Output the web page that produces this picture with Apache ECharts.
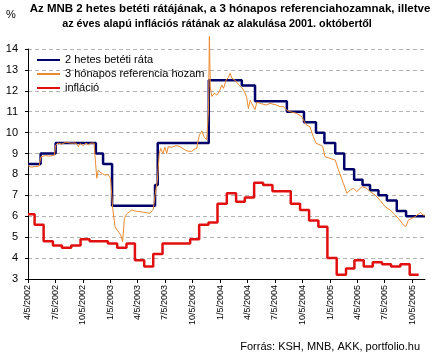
<!DOCTYPE html>
<html><head><meta charset="utf-8">
<script src="https://cdn.jsdelivr.net/npm/echarts@6/dist/echarts.min.js"></script>
<style>html,body{margin:0;padding:0;background:#fff}#c{width:432px;height:357px}</style>
</head><body><div id="c"></div><script>
const titleLine1 = 'Az MNB 2 hetes betéti rátájának, a 3 hónapos referenciahozamnak, illetve';
const titleLine2 = 'az éves alapú inflációs rátának az alakulása 2001. októbertől';
const sourceText = 'Forrás: KSH, MNB, AKK, portfolio.hu';
const seriesNames = ['2 hetes betéti ráta', '3 hónapos referencia hozam', 'infláció'];

const tickLabels = ['4/5/2002','7/5/2002','10/5/2002','1/5/2003','4/5/2003','7/5/2003','10/5/2003','1/5/2004','4/5/2004','7/5/2004','10/5/2004','1/5/2005','4/5/2005','7/5/2005','10/5/2005'];
const yTicks = [3,4,5,6,7,8,9,10,11,12,13,14];
const xStart = '2002-04-05';
const xEnd = '2005-11-17';

const blueDates = ['2002-04-05','2002-05-17','2002-07-06','2002-11-17','2002-12-11','2003-01-10','2003-06-02','2003-06-11','2003-11-28','2004-03-17','2004-04-30','2004-08-14','2004-10-10','2004-11-19','2004-12-17','2005-01-22','2005-02-21','2005-03-26','2005-04-23','2005-05-18','2005-06-15','2005-07-13','2005-08-15','2005-09-15','2005-11-17'];
const blueValues = [8.5,9.0,9.5,9.0,8.5,6.5,7.5,9.5,12.5,12.25,11.5,11.0,10.5,10.0,9.5,9.0,8.25,7.75,7.5,7.25,7.0,6.75,6.25,6.0,6.0];

const redDates = ['2002-04-05','2002-04-27','2002-05-27','2002-06-27','2002-07-27','2002-08-27','2002-09-27','2002-10-27','2002-11-27','2002-12-27',
 '2003-01-27','2003-02-27','2003-03-27','2003-04-27','2003-05-27','2003-06-27','2003-07-27','2003-08-27','2003-09-27','2003-10-27','2003-11-27','2003-12-27',
 '2004-01-27','2004-02-27','2004-03-27','2004-04-27','2004-05-27','2004-06-27','2004-07-27','2004-08-27','2004-09-27','2004-10-27','2004-11-27','2004-12-27',
 '2005-01-27','2005-02-27','2005-03-27','2005-04-27','2005-05-27','2005-06-27','2005-07-27','2005-08-27','2005-09-27','2005-10-27'];
const redValues = [6.1,5.6,4.8,4.6,4.5,4.6,4.9,4.8,4.8,4.7,
 4.5,4.7,3.9,3.6,4.2,4.7,4.7,4.7,4.9,5.6,5.7,6.6,
 7.1,6.7,6.9,7.6,7.5,7.2,7.2,6.6,6.3,5.8,5.5,4.0,
 3.2,3.5,3.9,3.6,3.8,3.7,3.6,3.7,3.2,3.2];

const orangeDates = ['2002-04-05','2002-04-15','2002-04-28','2002-05-12','2002-05-18','2002-06-01','2002-06-17','2002-07-02','2002-07-06','2002-07-14','2002-07-27','2002-08-10','2002-08-23','2002-09-12','2002-09-20','2002-09-25','2002-10-06','2002-10-15','2002-10-23','2002-11-01','2002-11-11','2002-11-14','2002-11-20','2002-11-25','2002-12-07','2002-12-17','2002-12-27',
 '2003-01-05','2003-01-12','2003-01-20','2003-01-27','2003-02-08','2003-02-14','2003-02-20','2003-02-27','2003-03-05','2003-03-16','2003-03-27','2003-04-13','2003-04-30','2003-05-16','2003-05-27','2003-06-02','2003-06-10','2003-06-16','2003-06-21','2003-06-28','2003-07-05','2003-07-11','2003-07-16','2003-07-28','2003-08-11','2003-08-24','2003-09-07','2003-09-17','2003-10-02','2003-10-10','2003-10-19','2003-10-23','2003-10-28','2003-11-05','2003-11-12','2003-11-21','2003-11-27','2003-11-30','2003-12-03','2003-12-08','2003-12-16','2003-12-25',
 '2004-01-02','2004-01-10','2004-01-16','2004-01-25','2004-02-01','2004-02-07','2004-02-13','2004-02-24','2004-03-06','2004-03-17','2004-03-25','2004-04-02','2004-04-08','2004-04-14','2004-04-19','2004-04-30','2004-05-06','2004-05-22','2004-06-06','2004-06-19','2004-07-11','2004-07-22','2004-08-02','2004-08-14','2004-08-25','2004-09-16','2004-10-03','2004-10-12','2004-10-19','2004-10-30','2004-11-10','2004-11-19','2004-12-03','2004-12-11','2004-12-19',
 '2005-01-05','2005-01-22','2005-02-02','2005-02-18','2005-03-02','2005-03-13','2005-03-24','2005-04-04','2005-04-21','2005-05-07','2005-05-18','2005-06-04','2005-06-21','2005-07-07','2005-07-24','2005-08-10','2005-08-26','2005-09-06','2005-09-14','2005-09-23','2005-10-04','2005-10-15','2005-10-26','2005-11-03','2005-11-10','2005-11-17'];
const orangeValues = [8.42,8.35,8.38,8.4,8.85,8.9,8.88,8.92,9.4,9.5,9.45,9.55,9.5,9.5,9.33,9.48,9.38,9.5,9.42,9.5,9.5,8.93,7.82,8.2,8.05,7.97,8.0,
 7.8,6.38,5.5,5.34,5.1,4.78,5.9,6.1,6.14,6.3,6.25,6.22,6.18,6.14,6.33,7.0,7.73,9.0,9.25,9.0,9.3,9.0,9.33,9.3,9.38,9.33,9.2,9.12,9.1,9.2,9.25,9.6,9.89,10.08,9.81,9.65,11.0,14.6,12.2,11.73,11.88,11.8,
 11.96,12.28,12.12,12.52,12.63,12.84,12.6,12.5,12.3,12.15,11.98,11.7,11.15,11.55,11.4,11.1,11.45,11.38,11.32,11.4,11.32,11.24,11.24,11.08,11.0,10.92,10.76,10.5,10.36,10.28,9.81,9.49,9.41,9.35,8.85,
 8.77,8.69,8.21,7.58,7.1,7.26,7.34,7.18,7.42,7.34,7.18,7.02,6.75,6.46,6.3,6.06,5.8,5.58,5.5,5.82,5.9,5.98,6.11,6.18,6.06,6.05];

function iso(s){const p=s.split('-').map(Number);return new Date(p[0],p[1]-1,p[2]).getTime();}
function mdy(s){const p=s.split('/').map(Number);return new Date(p[2],p[0]-1,p[1]).getTime();}
function pairs(ds,vs){return ds.map((d,i)=>[iso(d),vs[i]]);}
const tickValues = tickLabels.map(mdy);
const font = 'Liberation Sans, Arial, sans-serif';

const chart = echarts.init(document.getElementById('c'), null, {renderer:'canvas'});
chart.setOption({
  animation:false,
  backgroundColor:'#fff',
  title:[
    {text:titleLine1,left:230,top:3,padding:0,textAlign:'center',textStyle:{fontSize:11.5,fontWeight:'bold',fontFamily:font,color:'#000'}},
    {text:titleLine2,left:217,top:19,padding:0,textAlign:'center',textStyle:{fontSize:10.8,fontWeight:'bold',fontFamily:font,color:'#000'}},
    {text:'%',left:6,top:9,padding:0,textStyle:{fontSize:11,fontWeight:'normal',fontFamily:font,color:'#000'}},
    {text:sourceText,right:12,top:341,padding:0,textStyle:{fontSize:11,fontWeight:'normal',fontFamily:font,color:'#000'}}
  ],
  legend:{orient:'vertical',left:36,top:54,itemWidth:23,itemHeight:12,itemGap:2,padding:0,
    itemStyle:{opacity:0},
    textStyle:{fontSize:11,fontFamily:font,color:'#000',lineHeight:12},data:seriesNames},
  grid:{left:28,right:7,top:49,bottom:78},
  xAxis:{type:'value',min:iso(xStart),max:iso(xEnd),
    axisLine:{show:true,lineStyle:{color:'#000',width:1}},
    axisTick:{show:true,customValues:tickValues,length:4,lineStyle:{color:'#000'}},
    axisLabel:{customValues:tickValues,rotate:90,margin:6,fontSize:9,fontFamily:font,color:'#000',
      formatter:function(v){let best=0;for(let i=1;i<tickValues.length;i++){if(Math.abs(tickValues[i]-v)<Math.abs(tickValues[best]-v))best=i;}return tickLabels[best];}},
    splitLine:{show:false}},
  yAxis:{type:'value',min:yTicks[0],max:yTicks[yTicks.length-1],interval:1,
    axisLine:{show:true,lineStyle:{color:'#000',width:1}},
    axisTick:{show:true,length:3,lineStyle:{color:'#000'}},
    axisLabel:{fontSize:11,fontFamily:font,color:'#000',margin:10},
    splitLine:{show:true,lineStyle:{color:'#b4b4b4',type:[4,3],width:1}}},
  series:[
    {name:seriesNames[0],type:'line',step:'end',symbol:'none',data:pairs(blueDates,blueValues),
      lineStyle:{color:'#00006a',width:2.5},itemStyle:{color:'#00006a'}},
    {name:seriesNames[1],type:'line',symbol:'none',clip:false,data:pairs(orangeDates,orangeValues),
      lineStyle:{color:'#ec8a30',width:1},itemStyle:{color:'#ec8a30'}},
    {name:seriesNames[2],type:'line',step:'end',symbol:'none',data:pairs(redDates,redValues),
      lineStyle:{color:'#e01010',width:2.5},itemStyle:{color:'#e01010'}}
  ]
});
</script></body></html>
